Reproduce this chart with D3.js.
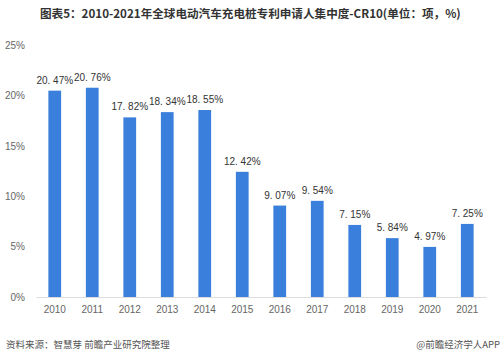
<!DOCTYPE html>
<html><head><meta charset="utf-8">
<script src="https://cdn.jsdelivr.net/npm/d3@7"></script>
<style>body{margin:0;background:#fff;}svg{display:block;font-family:"Noto Sans CJK SC","DejaVu Sans",sans-serif;}</style>
</head><body><svg id="c" width="500" height="359"></svg>
<script>
const years = ["2010","2011","2012","2013","2014","2015","2016","2017","2018","2019","2020","2021"];
const values = [20.47,20.76,17.82,18.34,18.55,12.42,9.07,9.54,7.15,5.84,4.97,7.25];
const yTicks = [0,5,10,15,20,25];
const numFont = "Liberation Sans, Arial, sans-serif";
const svg = d3.select("#c");
svg.append("rect").attr("width",500).attr("height",359).attr("fill","#fff");
const x = d3.scaleBand().domain(years).range([36,486]).paddingInner(0.66).paddingOuter(0.33);
const y = d3.scaleLinear().domain([0,25]).range([297,45]);
svg.append("text").attr("x",40).attr("y",18).attr("font-size",11.6).attr("font-weight","bold").attr("fill","#333")
  .text("图表5：2010-2021年全球电动汽车充电桩专利申请人集中度-CR10(单位：项，%)");
const ya = svg.append("g").attr("transform","translate(28,0)").call(d3.axisLeft(y).tickValues(yTicks).tickSize(0).tickFormat(d=>d+"%"));
ya.select(".domain").remove();
ya.selectAll("text").attr("font-size",10).attr("fill","#666").attr("font-family",numFont).attr("dx",0);
const xa = svg.append("g").attr("transform","translate(0,297)").call(d3.axisBottom(x).tickSize(0));
xa.select(".domain").attr("stroke","#ddd");
xa.selectAll("text").attr("font-size",10).attr("fill","#666").attr("dy","1.3em").attr("font-family",numFont);
svg.selectAll(".bar").data(values).join("rect").attr("class","bar")
  .attr("x",(d,i)=>x(years[i])).attr("width",x.bandwidth()).attr("y",d=>y(d)).attr("height",d=>y(0)-y(d)).attr("fill","#3a7fdb");
svg.selectAll(".lbl").data(values).join("text").attr("class","lbl")
  .attr("x",(d,i)=>x(years[i])+x.bandwidth()/2).attr("y",d=>y(d)-7).attr("text-anchor","middle")
  .attr("font-size",10).attr("fill","#333").attr("font-family",numFont).text(d=>d.toFixed(2).replace(".",". ")+"%");
svg.append("text").attr("x",6).attr("y",348).attr("font-size",9.5).attr("fill","#555").text("资料来源：智慧芽 前瞻产业研究院整理");
svg.append("text").attr("x",500).attr("y",348).attr("text-anchor","end").attr("font-size",9.5).attr("fill","#555").text("@前瞻经济学人APP");
</script></body></html>
